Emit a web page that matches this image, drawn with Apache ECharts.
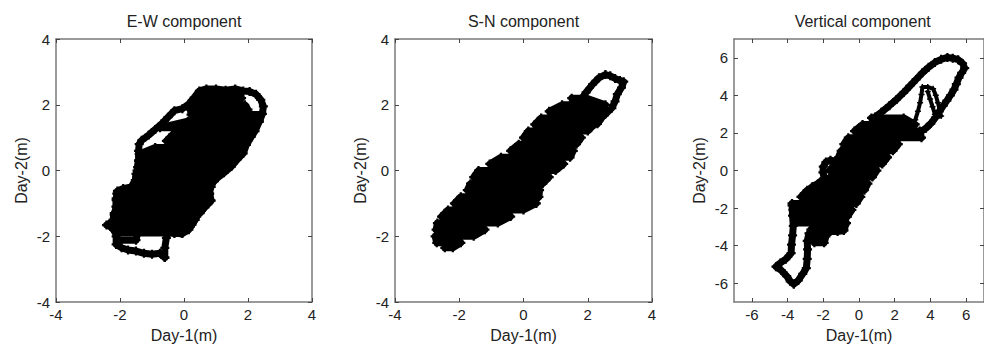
<!DOCTYPE html>
<html>
<head>
<meta charset="utf-8">
<title>Day-1 vs Day-2 components</title>
<script src="https://cdn.jsdelivr.net/npm/echarts@6.0.0/dist/echarts.min.js"></script>
<style>
  html, body { margin: 0; padding: 0; background: #fff; }
  #chart { width: 984px; height: 350px; }
</style>
</head>
<body>
<div id="chart"></div>
<script>
// text
const titles = ['E-W component', 'S-N component', 'Vertical component'];
const xName = 'Day-1(m)';
const yName = 'Day-2(m)';

// axis ranges and tick labels
const ewRange = [-4, 4];
const snRange = [-4, 4];
const vtRange = [-7, 7];
const ewTicks = [-4, -2, 0, 2, 4];
const snTicks = [-4, -2, 0, 2, 4];
const vtTicks = [-6, -4, -2, 0, 2, 4, 6];

// E-W: outer trail of the scatter, [day1, day2]
const ewLoop = [
  [-0.6, -2.65], [-0.6, -2.35], [-0.55, -2.05], [-0.5, -1.85], [-0.3, -1.92], [-0.05, -1.92],
  [0.15, -1.8], [0.25, -1.65], [0.35, -1.45], [0.5, -1.28], [0.65, -1.12], [0.85, -0.92],
  [0.8, -0.7], [0.85, -0.42], [1.05, -0.22], [1.25, -0.07], [1.48, 0.12], [1.65, 0.32],
  [1.85, 0.52], [1.95, 0.78], [2.1, 1.02], [2.22, 1.2], [2.35, 1.48], [2.45, 1.72],
  [2.48, 1.95], [2.4, 2.15], [2.25, 2.32], [2.05, 2.4], [1.85, 2.42], [1.6, 2.48],
  [1.3, 2.44], [1.0, 2.48], [0.7, 2.48], [0.48, 2.42], [0.32, 2.22], [0.15, 2.02],
  [-0.05, 1.88], [-0.3, 1.82], [-0.5, 1.62], [-0.7, 1.42], [-0.9, 1.25], [-1.1, 1.08],
  [-1.32, 0.92], [-1.4, 0.8], [-1.42, 0.6], [-1.42, 0.3], [-1.47, 0.0], [-1.52, -0.3],
  [-1.65, -0.5], [-1.9, -0.55], [-2.08, -0.62], [-2.12, -0.85], [-2.12, -1.1], [-2.18, -1.35],
  [-2.22, -1.55], [-2.42, -1.66], [-2.18, -1.75], [-2.12, -2.0], [-2.12, -2.25], [-1.95, -2.35],
  [-1.75, -2.42], [-1.5, -2.45], [-1.25, -2.52], [-1.0, -2.55], [-0.75, -2.52], [-0.6, -2.65]
];
// E-W: dense core of the scatter
const ewCore = [
  [0.5, 2.35], [1.75, 2.35], [1.8, 2.2], [0.35, 2.2], [0.25, 2.0], [1.9, 2.0],
  [2.0, 1.85], [0.2, 1.85], [0.22, 1.7], [2.4, 1.7], [2.35, 1.5], [0.12, 1.5],
  [-0.75, 1.3], [2.22, 1.3], [2.1, 1.1], [-0.35, 1.1], [-0.55, 0.9], [1.95, 0.9],
  [1.85, 0.7], [-0.9, 0.7], [-1.4, 0.5], [1.72, 0.5], [1.55, 0.3], [-1.42, 0.3],
  [-1.45, 0.1], [1.35, 0.1], [1.12, -0.1], [-1.5, -0.1], [-1.52, -0.3], [0.9, -0.3],
  [0.85, -0.5], [-1.6, -0.5], [-2.1, -0.7], [0.8, -0.7], [0.82, -0.9], [-2.12, -0.9],
  [-2.12, -1.1], [0.65, -1.1], [0.5, -1.3], [-2.18, -1.3], [-2.22, -1.5], [0.35, -1.5],
  [0.2, -1.7], [-2.3, -1.7], [-2.12, -1.9], [-0.1, -1.9], [-1.45, -1.9], [-1.5, -2.12],
  [-2.05, -2.12]
];

// S-N: loop at the upper right
const snLoop = [
  [1.75, 2.1], [1.95, 2.38], [2.15, 2.62], [2.35, 2.82], [2.55, 2.92], [2.7, 2.88],
  [2.85, 2.8], [3.0, 2.74], [3.12, 2.7], [3.05, 2.52], [2.92, 2.32], [2.85, 2.1],
  [2.75, 1.9], [2.62, 1.78], [2.45, 1.62], [2.3, 1.42]
];
// S-N: dense core of the scatter
const snCore = [
  [1.5, 2.2], [1.95, 2.2], [2.55, 2.0], [1.2, 2.0], [0.8, 1.8], [2.55, 1.8],
  [2.4, 1.6], [0.55, 1.6], [0.35, 1.4], [2.2, 1.4], [2.0, 1.2], [0.15, 1.2],
  [0.0, 1.0], [1.8, 1.0], [1.65, 0.8], [-0.15, 0.8], [-0.4, 0.6], [1.55, 0.6],
  [1.45, 0.4], [-0.7, 0.4], [-1.05, 0.2], [1.25, 0.2], [1.0, 0.0], [-1.4, 0.0],
  [-1.55, -0.2], [0.8, -0.2], [0.6, -0.4], [-1.65, -0.4], [-1.75, -0.6], [0.5, -0.6],
  [0.48, -0.8], [-1.95, -0.8], [-2.15, -1.0], [0.4, -1.0], [0.0, -1.2], [-2.35, -1.2],
  [-2.55, -1.4], [-0.4, -1.4], [-0.8, -1.6], [-2.68, -1.6], [-2.72, -1.8], [-1.2, -1.8],
  [-1.55, -2.0], [-2.75, -2.0], [-2.7, -2.2], [-1.95, -2.2], [-2.2, -2.35], [-2.45, -2.35]
];

// Vertical: upper loop
const vtTopLoop = [
  [0.9, 2.85], [1.25, 3.1], [1.7, 3.45], [2.1, 3.78], [2.5, 4.15], [2.85, 4.5],
  [3.2, 4.85], [3.55, 5.2], [3.9, 5.5], [4.25, 5.75], [4.6, 5.92], [4.95, 6.02],
  [5.25, 5.98], [5.55, 5.9], [5.8, 5.7], [5.92, 5.45], [5.75, 5.2], [5.6, 4.95],
  [5.45, 4.6], [5.32, 4.3], [5.12, 4.0], [4.92, 3.72], [4.72, 3.45], [4.5, 3.15],
  [4.28, 2.82], [4.02, 2.5], [3.75, 2.25], [3.45, 2.05]
];
// Vertical: structure inside the upper loop
const vtInner = [
  [3.15, 2.7], [3.3, 3.15], [3.42, 3.6], [3.5, 4.05], [3.55, 4.45], [3.85, 4.45],
  [4.15, 4.35], [4.3, 4.0], [4.42, 3.6], [4.52, 3.2], [4.6, 2.9], [4.25, 3.0],
  [4.12, 3.4], [3.98, 3.8], [3.85, 4.2]
];
// Vertical: small bump on the left of the core
const vtBump = [
  [-1.3, 0.5], [-1.6, 0.55], [-1.85, 0.45], [-2.0, 0.2], [-2.02, -0.1], [-1.95, -0.4],
  [-2.2, -0.65], [-2.6, -0.85]
];
// Vertical: lower loop
const vtBottomLoop = [
  [-3.75, -1.85], [-3.72, -2.4], [-3.68, -2.95], [-3.72, -3.45], [-3.78, -3.95], [-3.8, -4.4],
  [-4.1, -4.72], [-4.4, -4.92], [-4.65, -5.12], [-4.35, -5.32], [-4.05, -5.62], [-3.85, -5.9],
  [-3.65, -6.05], [-3.4, -5.85], [-3.15, -5.5], [-2.95, -5.2], [-2.9, -4.7], [-2.88, -4.2],
  [-2.9, -3.75], [-2.8, -3.35], [-2.45, -3.3], [-2.0, -3.3], [-1.6, -3.25], [-1.2, -3.25],
  [-0.85, -3.2], [-0.8, -2.9], [-0.8, -2.55]
];
// Vertical: dense core
const vtCore = [
  [0.7, 2.8], [2.5, 2.8], [3.15, 2.45], [0.2, 2.45], [-0.25, 2.1], [3.4, 2.1],
  [3.5, 1.75], [-0.6, 1.75], [-0.85, 1.4], [2.2, 1.4], [1.9, 1.05], [-1.0, 1.05],
  [-1.15, 0.7], [1.6, 0.7], [1.3, 0.35], [-1.35, 0.35], [-1.65, 0.0], [1.0, 0.0],
  [0.75, -0.35], [-1.6, -0.35], [-2.3, -0.7], [0.5, -0.7], [0.3, -1.05], [-2.9, -1.05],
  [-3.25, -1.4], [0.1, -1.4], [-0.15, -1.75], [-3.75, -1.75], [-3.7, -2.1], [-0.4, -2.1],
  [-0.65, -2.45], [-3.65, -2.45], [-3.6, -2.8], [-0.7, -2.8], [-0.85, -3.15], [-2.7, -3.15],
  [-2.65, -3.5], [-1.85, -3.5], [-1.95, -3.85], [-2.5, -3.85]
];

const FONT = '"Liberation Sans", Arial, sans-serif';
const frameColor = '#7a7a7a';
const textColor = '#222';
const plus = 'path://M3,0H5V3H8V5H5V8H3V5H0V3H3Z';

const panels = [
  { grid: { left: 56, top: 39, width: 256, height: 263 }, range: ewRange, ticks: ewTicks, cx: 184,
    paths: [[ewCore, 7], [ewLoop, 7]] },
  { grid: { left: 395, top: 39, width: 257, height: 263 }, range: snRange, ticks: snTicks, cx: 523.5,
    paths: [[snCore, 7], [snLoop, 7]] },
  { grid: { left: 734, top: 39, width: 257, height: 263 }, range: vtRange, ticks: vtTicks, cx: 862.7,
    paths: [[vtCore, 7], [vtTopLoop, 7], [vtInner, 4], [vtBump, 7], [vtBottomLoop, 7]] }
];

function axes(gi, p, dim) {
  const common = {
    type: 'value',
    gridIndex: gi,
    min: p.range[0],
    max: p.range[1],
    axisLine: { show: true, onZero: false, lineStyle: { color: frameColor, width: 1.5 } },
    axisTick: { show: true, inside: true, length: 4, customValues: p.ticks, lineStyle: { color: '#444' } },
    splitLine: { show: false }
  };
  const main = Object.assign({}, common, {
    position: dim === 'x' ? 'bottom' : 'left',
    axisLabel: { customValues: p.ticks, color: textColor, fontSize: 15, fontFamily: FONT, margin: dim === 'x' ? 5 : 6 },
    name: dim === 'x' ? xName : yName,
    nameLocation: 'middle',
    nameGap: dim === 'x' ? 25 : 27,
    nameRotate: dim === 'x' ? 0 : 90,
    nameTextStyle: { color: textColor, fontSize: 16, fontFamily: FONT }
  });
  const opp = Object.assign({}, common, {
    position: dim === 'x' ? 'top' : 'right',
    axisLabel: { show: false }
  });
  return [main, opp];
}

const grid = [], xAxis = [], yAxis = [], series = [], graphic = [];
panels.forEach((p, i) => {
  grid.push(p.grid);
  xAxis.push(...axes(i, p, 'x'));
  yAxis.push(...axes(i, p, 'y'));
  p.paths.forEach(([d, w]) => {
    series.push({
      type: 'line',
      xAxisIndex: 2 * i,
      yAxisIndex: 2 * i,
      data: d,
      symbol: plus,
      symbolSize: w + 2,
      showSymbol: true,
      itemStyle: { color: '#000' },
      lineStyle: { color: '#000', width: w, cap: 'round', join: 'round' },
      silent: true
    });
  });
  graphic.push({
    type: 'text',
    x: p.cx,
    y: 21,
    style: { text: titles[i], textAlign: 'center', textVerticalAlign: 'middle', font: '16px ' + FONT, fill: textColor }
  });
});

const chart = echarts.init(document.getElementById('chart'), null, { renderer: 'svg' });
chart.setOption({
  animation: false,
  backgroundColor: '#fff',
  grid, xAxis, yAxis, series, graphic
});
</script>
</body>
</html>
